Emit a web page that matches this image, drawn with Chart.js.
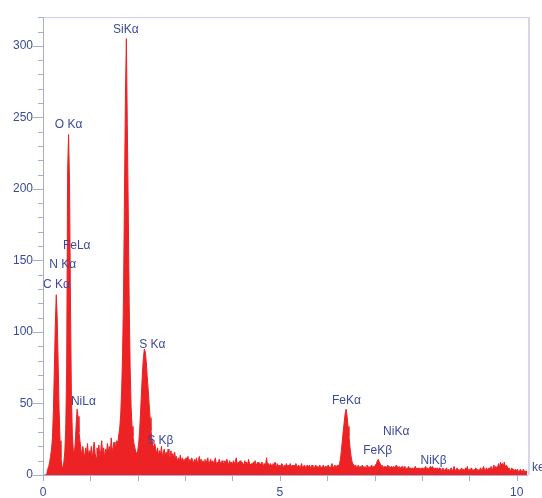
<!DOCTYPE html>
<html>
<head>
<meta charset="utf-8">
<script src="https://cdn.jsdelivr.net/npm/chart.js@4/dist/chart.umd.min.js"></script>
<style>
  html, body { margin: 0; padding: 0; background: #fff; }
  #spec { display: block; }
</style>
</head>
<body>
<canvas id="spec" width="542" height="498"></canvas>
<script>
// EDS spectrum, 0.02 keV per channel, channel 0 = 0 keV
const channelWidth = 0.02;
const counts = [
  0, 0, 0, 0, 1, 4, 6, 9, 13, 18,
  26, 45, 75, 105, 126, 110, 78, 45, 24, 12,
  6, 5, 9, 16, 32, 75, 213, 238, 205, 120,
  55, 28, 17, 15, 22, 35, 46, 41, 30, 24,
  18, 14, 20, 16, 12, 19, 15, 22, 13, 17,
  14, 20, 11, 18, 23, 15, 12, 19, 16, 21,
  13, 17, 24, 14, 19, 12, 18, 15, 22, 16,
  20, 14, 26, 17, 19, 23, 16, 21, 24, 22,
  28, 33, 42, 58, 85, 125, 195, 265, 305, 245,
  185, 120, 75, 48, 34, 27, 22, 19, 16, 15,
  17, 22, 31, 44, 58, 72, 82, 88, 86, 79,
  69, 60, 50, 40, 31, 25, 21, 19, 22, 18,
  15, 19, 13, 17, 14, 20, 12, 16, 18, 13,
  16, 12, 18, 14, 11, 17, 13, 15, 12, 16,
  11, 13, 9, 12, 10, 14, 9, 12, 10, 11,
  9, 12, 10, 13, 8, 11, 9, 12, 10, 8,
  11, 9, 12, 8, 10, 13, 9, 11, 8, 10,
  9, 11, 8, 10, 12, 7, 9, 11, 8, 10,
  8, 10, 12, 7, 9, 8, 11, 9, 7, 10,
  9, 7, 10, 8, 11, 9, 7, 10, 8, 9,
  7, 10, 8, 9, 12, 7, 9, 8, 10, 7,
  9, 8, 7, 10, 8, 9, 7, 11, 8, 7,
  8, 7, 9, 8, 10, 7, 8, 9, 7, 8,
  7, 9, 8, 6, 8, 7, 12, 7, 8, 6,
  8, 7, 6, 8, 7, 9, 6, 8, 7, 6,
  7, 6, 8, 7, 5, 7, 6, 8, 6, 7,
  6, 8, 5, 7, 6, 7, 5, 8, 6, 6,
  7, 5, 6, 8, 5, 6, 7, 5, 6, 7,
  5, 7, 6, 5, 7, 6, 5, 6, 7, 5,
  6, 5, 7, 6, 5, 6, 7, 5, 6, 6,
  5, 7, 6, 5, 6, 8, 6, 5, 7, 6,
  6, 7, 6, 8, 11, 17, 24, 31, 37, 43,
  46, 41, 34, 27, 20, 14, 10, 8, 7, 6,
  7, 5, 6, 7, 5, 6, 5, 7, 6, 5,
  6, 5, 7, 5, 6, 5, 6, 7, 5, 6,
  6, 7, 8, 10, 11, 9, 8, 6, 7, 5,
  6, 5, 6, 5, 7, 5, 6, 5, 6, 5,
  6, 5, 6, 7, 6, 5, 6, 5, 5, 6,
  5, 4, 6, 5, 4, 5, 6, 4, 5, 4,
  5, 4, 5, 6, 4, 5, 4, 5, 4, 5,
  4, 5, 4, 5, 6, 4, 5, 4, 5, 6,
  5, 6, 5, 4, 5, 4, 5, 4, 4, 5,
  4, 3, 5, 4, 3, 4, 5, 3, 4, 3,
  4, 5, 3, 4, 6, 3, 4, 5, 3, 4,
  3, 4, 5, 3, 4, 3, 5, 4, 6, 3,
  4, 3, 5, 4, 3, 4, 3, 5, 3, 4,
  3, 4, 5, 3, 4, 6, 4, 3, 5, 4,
  4, 5, 3, 6, 4, 5, 7, 4, 6, 5,
  6, 8, 5, 9, 7, 8, 6, 9, 5, 7,
  6, 4, 5, 3, 4, 5, 3, 4, 3, 4,
  3, 4, 2, 3, 4, 3, 2, 4, 3, 2,
  3, 2
];

// peak labels: text, anchor energy (keV), anchor counts
const peakNames  = ['SiK\u03b1', 'O K\u03b1', 'FeL\u03b1', 'N K\u03b1', 'C K\u03b1', 'NiL\u03b1',
                    'S K\u03b1', 'S K\u03b2', 'FeK\u03b1', 'NiK\u03b1', 'FeK\u03b2', 'NiK\u03b2'];
const peakEnergy = [1.48, 0.25, 0.42, 0.13, 0.0, 0.59, 2.03, 2.20, 6.10, 7.18, 6.76, 7.97];
const peakCounts = [311, 245, 160, 147, 133, 51, 91, 24, 52, 30, 17, 10];

const xMax = 10.24, yMax = 320;
const xLabelStep = 5, xMinorStep = 1;
const yLabelStep = 50, yMinorStep = 10;

const textBlue = '#3c4a9a';
const axisBlue = '#a7add3';
const fontSpec = { family: "'Liberation Sans', Arial, sans-serif", size: 12 };

const points = counts.map((c, i) => ({ x: i * channelWidth, y: c }));

const axesPlugin = {
    id: 'axesPlugin',
    afterDraw(chart) {
        const { ctx, chartArea: a, scales: { x, y } } = chart;
        ctx.save();
        // frame top / right
        ctx.strokeStyle = '#c9cbe2';
        ctx.lineWidth = 1;
        ctx.beginPath();
        ctx.moveTo(a.left, a.top + 0.5);
        ctx.lineTo(a.right + 2, a.top + 0.5);
        ctx.stroke();
        ctx.strokeStyle = '#d5d6e8';
        ctx.lineWidth = 2;
        ctx.beginPath();
        ctx.moveTo(a.right + 1, a.top);
        ctx.lineTo(a.right + 1, a.bottom);
        ctx.stroke();

        // axis lines
        ctx.strokeStyle = axisBlue;
        ctx.lineWidth = 1;
        ctx.beginPath();
        ctx.moveTo(a.left + 0.5, a.top);
        ctx.lineTo(a.left + 0.5, a.bottom + 6);
        ctx.moveTo(a.left, a.bottom + 0.5);
        ctx.lineTo(a.right, a.bottom + 0.5);
        ctx.stroke();

        // y ticks
        ctx.beginPath();
        for (let v = 0; v <= yMax; v += yMinorStep) {
            const py = Math.round(y.getPixelForValue(v)) + 0.5;
            const len = v % yLabelStep === 0 ? 10 : 5;
            ctx.moveTo(a.left - len, py);
            ctx.lineTo(a.left, py);
        }
        // x ticks
        for (let e = xMinorStep; e <= xMax; e += xMinorStep) {
            const px = Math.round(x.getPixelForValue(e)) + 0.5;
            ctx.moveTo(px, a.bottom);
            ctx.lineTo(px, a.bottom + 6);
        }
        ctx.stroke();

        // peak labels
        ctx.fillStyle = textBlue;
        ctx.font = '12px ' + fontSpec.family;
        ctx.textAlign = 'left';
        ctx.textBaseline = 'middle';
        peakNames.forEach((name, i) => {
            ctx.fillText(name, x.getPixelForValue(peakEnergy[i]), y.getPixelForValue(peakCounts[i]));
        });
        // unit, runs off the right edge like the original
        ctx.fillText('keV', a.right + 4, a.bottom - 7);
        ctx.restore();
    }
};

new Chart(document.getElementById('spec'), {
    type: 'line',
    data: {
        datasets: [{
            data: points,
            borderColor: 'rgb(236, 34, 36)',
            backgroundColor: 'rgb(236, 34, 36)',
            borderWidth: 1,
            fill: 'origin',
            pointRadius: 0,
            tension: 0
        }]
    },
    options: {
        responsive: false,
        animation: false,
        devicePixelRatio: 1,
        layout: { padding: { top: 13, right: 14, left: 0, bottom: 0 } },
        plugins: { legend: { display: false }, tooltip: { enabled: false } },
        scales: {
            x: {
                type: 'linear',
                min: 0,
                max: xMax,
                afterFit: s => { s.height = 23; },
                grid: { display: false, drawTicks: false },
                border: { display: false },
                ticks: {
                    stepSize: xLabelStep,
                    includeBounds: false,
                    maxRotation: 0,
                    padding: 10,
                    color: textBlue,
                    font: fontSpec
                }
            },
            y: {
                min: 0,
                max: yMax,
                afterFit: s => { s.width = 43; },
                grid: { display: false, drawTicks: false },
                border: { display: false },
                ticks: {
                    stepSize: yLabelStep,
                    includeBounds: false,
                    padding: 10,
                    color: textBlue,
                    font: fontSpec
                }
            }
        }
    },
    plugins: [axesPlugin]
});
</script>
</body>
</html>
